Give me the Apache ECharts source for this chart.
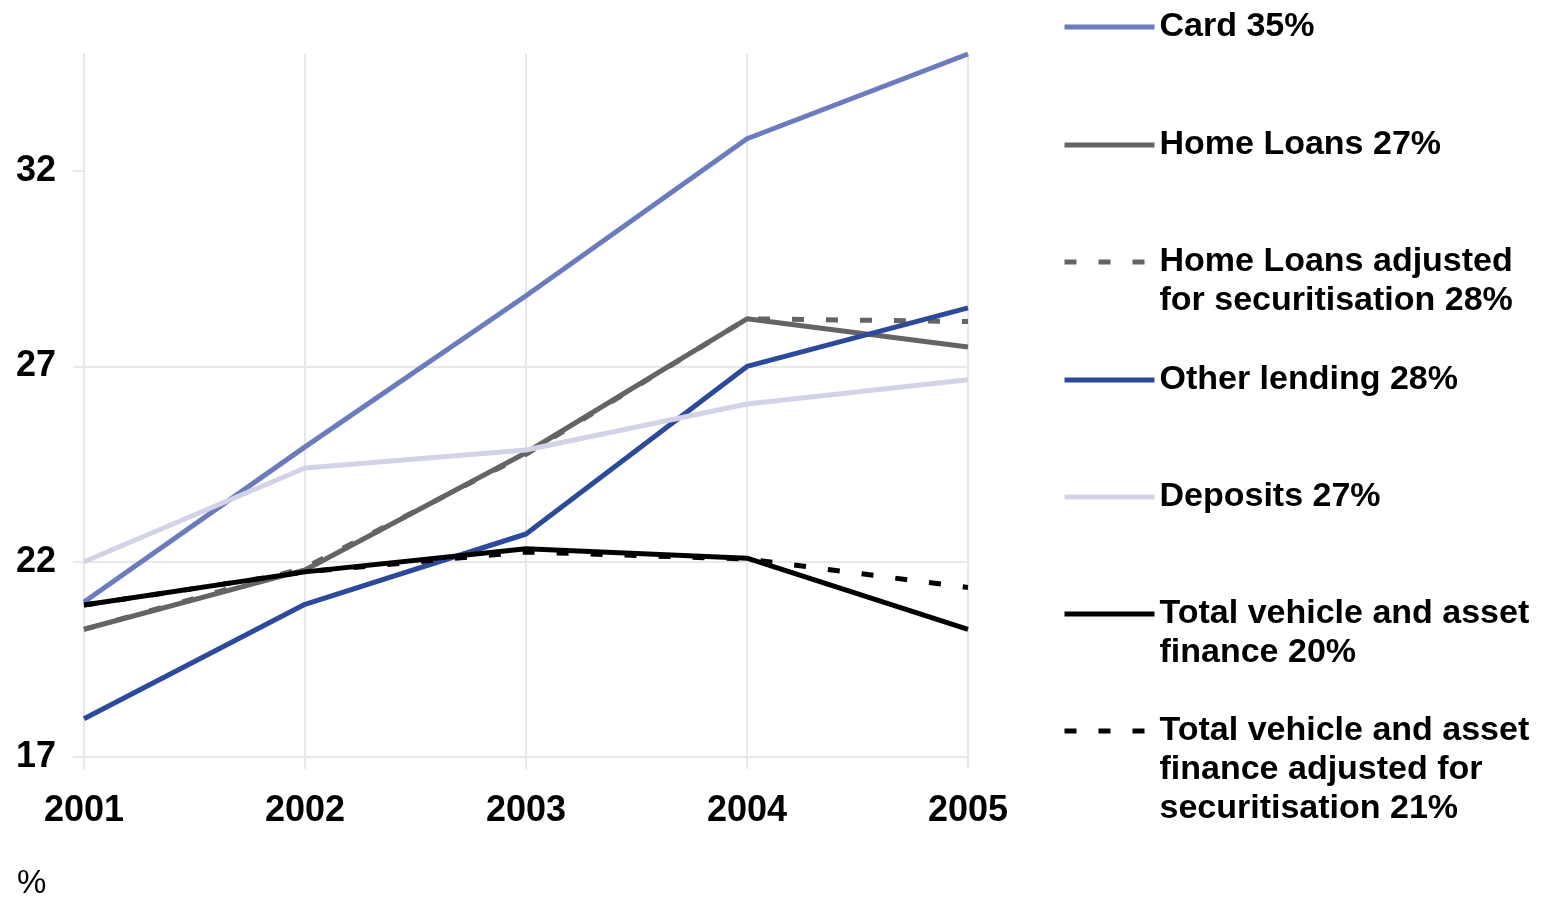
<!DOCTYPE html>
<html>
<head>
<meta charset="utf-8">
<script src="https://cdn.jsdelivr.net/npm/echarts@6/dist/echarts.min.js"></script>
<style>
  html, body { margin: 0; padding: 0; background: #fff; }
  #main { width: 1552px; height: 900px; }
</style>
</head>
<body>
<div id="main"></div>
<script>
// data (%)
var years = ['2001', '2002', '2003', '2004', '2005'];
var card = [20.97, 24.94, 28.81, 32.83, 35.0];
var homeLoans = [20.27, 21.79, 24.79, 28.22, 27.5];
var homeLoansAdj = [20.27, 21.85, 24.75, 28.22, 28.15];
var otherLending = [17.98, 20.91, 22.71, 27.0, 28.5];
var deposits = [22.0, 24.4, 24.86, 26.04, 26.66];
var vehicle = [20.89, 21.74, 22.33, 22.09, 20.27];
var vehicleAdj = [20.89, 21.74, 22.25, 22.07, 21.34];
var yTicks = [17, 22, 27, 32];

var names = [
  'Card 35%',
  'Home Loans 27%',
  'Home Loans adjusted for securitisation 28%',
  'Other lending 28%',
  'Deposits 27%',
  'Total vehicle and asset finance 20%',
  'Total vehicle and asset finance adjusted for securitisation 21%'
];
var labels = [
  ['Card 35%'],
  ['Home Loans 27%'],
  ['Home Loans adjusted', 'for securitisation 28%'],
  ['Other lending 28%'],
  ['Deposits 27%'],
  ['Total vehicle and asset', 'finance 20%'],
  ['Total vehicle and asset', 'finance adjusted for', 'securitisation 21%']
];
// y of the icon (first text line) for each legend entry
var legendY = [27, 145, 262, 380, 497, 614, 731];

var font = '"Liberation Sans", Arial, sans-serif';
var gridColor = '#e8e8e8';
var lh = 39;

var myChart = echarts.init(document.getElementById('main'));

function line(name, data, color, dashed) {
  return {
    name: name,
    type: 'line',
    data: data,
    symbol: 'none',
    lineStyle: { color: color, width: 5, type: dashed ? [12, 22] : 'solid', cap: 'butt' },
    itemStyle: { color: color }
  };
}

var legends = names.map(function (n, i) {
  var k = labels[i].length;
  // blank lines on top so the icon sits level with the first line
  var pad = [];
  for (var j = 1; j < k; j++) pad.push(' ');
  var text = pad.concat(labels[i]).join('\n');
  return {
    data: [n],
    left: 1062,
    top: legendY[i] - (k - 1) * lh - lh / 2,
    padding: 0,
    itemWidth: 90,
    itemHeight: 10,
    selectedMode: false,
    lineStyle: { width: 5 },
    itemStyle: { opacity: 0 },
    formatter: function () { return text; },
    textStyle: {
      fontFamily: font,
      fontSize: 34,
      fontWeight: 'bold',
      color: '#000',
      lineHeight: lh
    }
  };
});

var option = {
  animation: false,
  title: {
    text: '%',
    left: 12,
    top: 862,
    textStyle: { fontFamily: font, fontSize: 33, fontWeight: 'normal', color: '#000' }
  },
  legend: legends,
  grid: { left: 84, right: 584, top: 54, bottom: 143 },
  xAxis: {
    type: 'category',
    data: years,
    boundaryGap: false,
    axisLine: { lineStyle: { color: gridColor, width: 2 } },
    axisTick: { show: true, length: 12, lineStyle: { color: gridColor, width: 2 } },
    splitLine: { show: true, lineStyle: { color: gridColor, width: 2 } },
    axisLabel: { fontFamily: font, fontSize: 36, fontWeight: 'bold', color: '#000', margin: 36 }
  },
  yAxis: {
    type: 'value',
    min: 17,
    max: 35,
    interval: 5,
    axisLine: { show: true, lineStyle: { color: gridColor, width: 2 } },
    axisTick: { show: true, length: 11, customValues: yTicks, lineStyle: { color: gridColor, width: 2 } },
    splitLine: { show: true, showMaxLine: false, lineStyle: { color: gridColor, width: 2 } },
    axisLabel: {
      customValues: yTicks,
      fontFamily: font, fontSize: 36, fontWeight: 'bold', color: '#000', margin: 28
    }
  },
  series: [
    line(names[0], card, '#6b7bbd', false),
    line(names[1], homeLoans, '#646464', false),
    line(names[2], homeLoansAdj, '#646464', true),
    line(names[3], otherLending, '#2c4a9c', false),
    line(names[4], deposits, '#d3d3e8', false),
    line(names[5], vehicle, '#000000', false),
    line(names[6], vehicleAdj, '#000000', true)
  ]
};

myChart.setOption(option);
</script>
</body>
</html>
